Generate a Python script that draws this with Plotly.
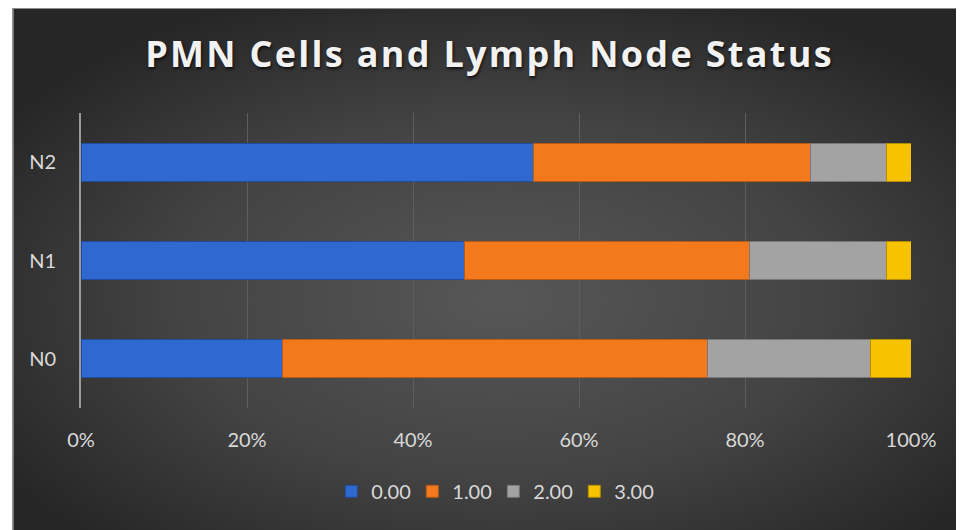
import base64
import plotly.graph_objects as go

categories = ["N0", "N1", "N2"]
series_names = ["0.00", "1.00", "2.00", "3.00"]
# percent of each lymph node group
values_000 = [24.3, 46.2, 54.5]
values_100 = [51.2, 34.3, 33.4]
values_200 = [19.6, 16.6, 9.1]
values_300 = [4.9, 2.9, 3.0]
tick_vals = [0, 20, 40, 60, 80, 100]
tick_text = ["0%", "20%", "40%", "60%", "80%", "100%"]

colors = ["#2f69cf", "#f4791d", "#a3a3a3", "#f7c200"]
line_colors = ["#1f4c9c", "#b95a14", "#777777", "#b58d00"]

W, H = 964, 530
OFF = 8  # page body margin: figure is drawn 8px right/down in the page
L, R, T, B = 80.7 - OFF, 910.7 - OFF, 112.8 - OFF, 408.5 - OFF
pw, ph = R - L, B - T

fig = go.Figure()
for name, vals, c, lc in zip(series_names, [values_000, values_100, values_200, values_300], colors, line_colors):
    fig.add_trace(go.Bar(
        y=categories, x=vals, name=name, orientation="h",
        marker=dict(color=c, line=dict(color=lc, width=1)),
    ))

bx0, by0 = 12 - OFF, 7 - OFF
bw, bh = W - bx0, H - by0
svg = f'''<svg xmlns="http://www.w3.org/2000/svg" width="{bw}" height="{bh}" viewBox="0 0 {bw} {bh}" preserveAspectRatio="none">
<defs><radialGradient id="g" cx="0.51" cy="0.55" r="0.62" fx="0.51" fy="0.55">
<stop offset="0" stop-color="#575757"/><stop offset="0.55" stop-color="#434343"/><stop offset="1" stop-color="#262626"/>
</radialGradient></defs>
<rect x="0" y="0" width="{bw}" height="{bh}" fill="url(#g)"/>
<path d="M0.75,{bh} L0.75,0.75 L{bw},0.75" fill="none" stroke="#8c8c8c" stroke-width="1.5"/>
</svg>'''
src = "data:image/svg+xml;base64," + base64.b64encode(svg.encode()).decode()

fig.add_layout_image(dict(
    source=src, xref="paper", yref="paper",
    x=(bx0 - L) / pw, y=(B - by0) / ph,
    sizex=bw / pw, sizey=bh / ph,
    xanchor="left", yanchor="top", sizing="stretch", layer="below",
))

fig.update_layout(
    width=W, height=H,
    margin=dict(l=L, r=W - R, t=T, b=H - B, pad=0),
    paper_bgcolor="white",
    plot_bgcolor="rgba(0,0,0,0)",
    barmode="stack",
    bargap=0.614,
    font=dict(family="Lato", color="#d9d9d9", size=20),
    title=dict(
        text='<span style="letter-spacing:2.3px">PMN Cells and Lymph Node Status</span>',
        x=(489.5 - OFF) / W, xanchor="center", xref="container",
        y=1 - (54 - OFF) / H, yanchor="middle", yref="container",
        font=dict(family="Open Sans", size=36, color="#f2f2f2", weight="bold",
                  shadow="1px 2px 3px rgba(0,0,0,0.7)"),
    ),
    xaxis=dict(
        range=[0, 100], tickvals=tick_vals, ticktext=tick_text,
        showgrid=True, gridcolor="#5e5e5e", gridwidth=1,
        zeroline=False, showline=False, ticks="",
        ticklabelstandoff=18,
        tickfont=dict(size=20, color="#d9d9d9"),
        fixedrange=True,
    ),
    yaxis=dict(
        showgrid=False, zeroline=False,
        showline=True, linecolor="#9a9a9a", linewidth=2,
        ticks="", ticklabelstandoff=19,
        tickfont=dict(size=20, color="#d9d9d9"),
        fixedrange=True,
    ),
    legend=dict(
        orientation="h", x=(493 - OFF - L) / pw, xanchor="center",
        y=(B - (492 - OFF)) / ph, yanchor="middle",
        font=dict(size=20, color="#d9d9d9"),
        bgcolor="rgba(0,0,0,0)", traceorder="normal",
        entrywidth=36, entrywidthmode="pixels",
    ),
    showlegend=True,
)

fig.write_html("out.html")
